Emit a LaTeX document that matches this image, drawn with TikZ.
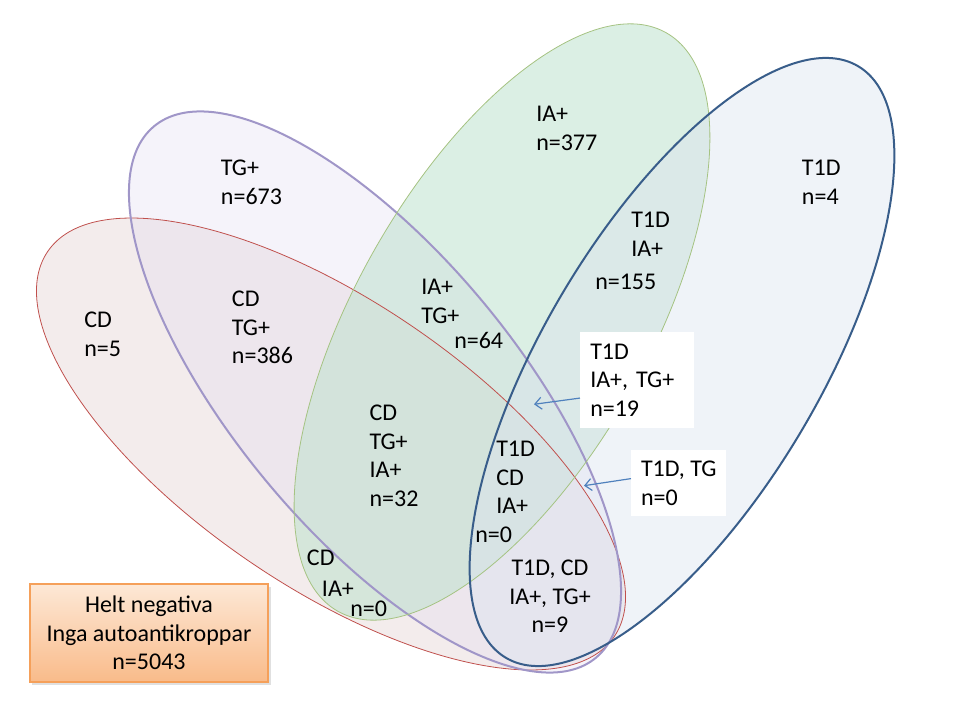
\documentclass[tikz,border=0pt]{standalone}
\usepackage{fontspec}
\setmainfont{Carlito}
\usetikzlibrary{arrows.meta}
\definecolor{cdfill}{RGB}{220,200,200}
\definecolor{tgfill}{RGB}{225,220,240}
\definecolor{iafill}{RGB}{190,225,205}
\definecolor{tdfill}{RGB}{220,228,240}
\definecolor{cdline}{RGB}{192,80,77}
\definecolor{tgline}{RGB}{160,150,200}
\definecolor{ialine}{RGB}{165,195,130}
\definecolor{tdline}{RGB}{56,93,138}
\definecolor{arrowblue}{RGB}{79,129,189}
\definecolor{negtop}{RGB}{253,232,214}
\definecolor{negbot}{RGB}{249,187,138}
\definecolor{negline}{RGB}{245,160,90}
\begin{document}
\begin{tikzpicture}[x=0.75pt,y=-0.75pt,
  txt/.style={inner sep=0pt, font=\fontsize{18}{21.4}\selectfont, align=left, anchor=base west},
  ctxt/.style={inner sep=0pt, font=\fontsize{18}{21.4}\selectfont, align=center, anchor=base},
  whitebox/.style={fill=white, draw=none, inner ysep=0pt, anchor=north west,
     font=\fontsize{18}{21.4}\selectfont, align=left},
  pointer/.style={draw=arrowblue, line width=0.9pt, -{Straight Barb[length=5pt,width=9pt]}}]
\useasboundingbox (0,0) rectangle (960,720);
% fills
\fill[cdfill, fill opacity=0.35, rotate around={-34.2:(331,444)}] (331,444) ellipse [x radius=256.9pt, y radius=107.25pt];
\fill[tgfill, fill opacity=0.35, rotate around={-50.25:(375,392)}] (375,392) ellipse [x radius=259.2pt, y radius=105.45pt];
\fill[iafill, fill opacity=0.55, rotate around={60.4:(502,322)}] (502,322) ellipse [x radius=249.45pt, y radius=109.9pt];
\fill[tdfill, fill opacity=0.45, rotate around={59.2:(682,362)}] (682,362) ellipse [x radius=258.2pt, y radius=103.4pt];
% outlines
\draw[cdline, line width=0.6pt, rotate around={-34.2:(331,444)}] (331,444) ellipse [x radius=256.9pt, y radius=107.25pt];
\draw[tgline, line width=1.5pt, rotate around={-50.25:(375,392)}] (375,392) ellipse [x radius=259.2pt, y radius=105.45pt];
\draw[ialine, line width=0.6pt, rotate around={60.4:(502,322)}] (502,322) ellipse [x radius=249.45pt, y radius=109.9pt];
\draw[tdline, line width=1.5pt, rotate around={59.2:(682,362)}] (682,362) ellipse [x radius=258.2pt, y radius=103.4pt];
% labels (anchor = baseline of the last line)
\node[txt] (tg) at (220.7,204.2) {TG+\\n=673};
\node[txt] (ia) at (536,150.2) {IA+\\n=377};
\node[txt] (td) at (801.7,204.2) {T1D\\n=4};
\node[txt] (tdia) at (631,256.2) {T1D\\IA+};
\node[txt] (tdian) at (595,289.3) {n=155};
\node[txt] (cd) at (84,356.5) {CD\\n=5};
\node[txt] (cdtg) at (231.7,363.8) {CD\\TG+\\n=386};
\node[txt] (iatg) at (421,323.5) {IA+\\TG+};
\node[txt] (iatgn) at (454,348.3) {n=64};
\node[txt] (cdtgia) at (369.3,506.3) {CD\\TG+\\IA+\\n=32};
\node[txt] (tdcdia) at (496,513.8) {T1D\\CD\\IA+};
\node[txt] (tdcdian) at (475,542.7) {n=0};
\node[txt] (cdia1) at (306.7,565.7) {CD};
\node[txt] (cdia2) at (321.7,596.7) {IA+};
\node[txt] (cdia3) at (350,616) {n=0};
\node[ctxt] (all) at (550,632.8) {T1D, CD\\IA+, TG+\\n=9};
% white boxes
\node[whitebox, inner xsep=7.5pt, text width=70.5pt, minimum height=71.7pt] (box1) at (580,332) {T1D\\IA+, TG+\\n=19};
\node[whitebox, inner xsep=0pt, minimum width=71.25pt, minimum height=49.5pt] (box2) at (631,450) {T1D, TG\\n=0};
\coordinate (tip1) at (534,404.3);
\coordinate (tip2) at (584,485.7);
\draw[pointer] ([yshift=-13.5pt]box1.west) -- (tip1);
\draw[pointer] ([yshift=3.5pt]box2.west) -- (tip2);
% negative box
\fill[black, opacity=0.12] (32,587) rectangle (271,685);
\node[draw=negline, line width=0.9pt, top color=negtop, bottom color=negbot,
  minimum width=178.5pt, minimum height=73.5pt, inner sep=0pt,
  font=\fontsize{18}{21.4}\selectfont, align=center] (neg) at (149,633)
  {Helt negativa\\Inga autoantikroppar\\n=5043};
\end{tikzpicture}
\end{document}
